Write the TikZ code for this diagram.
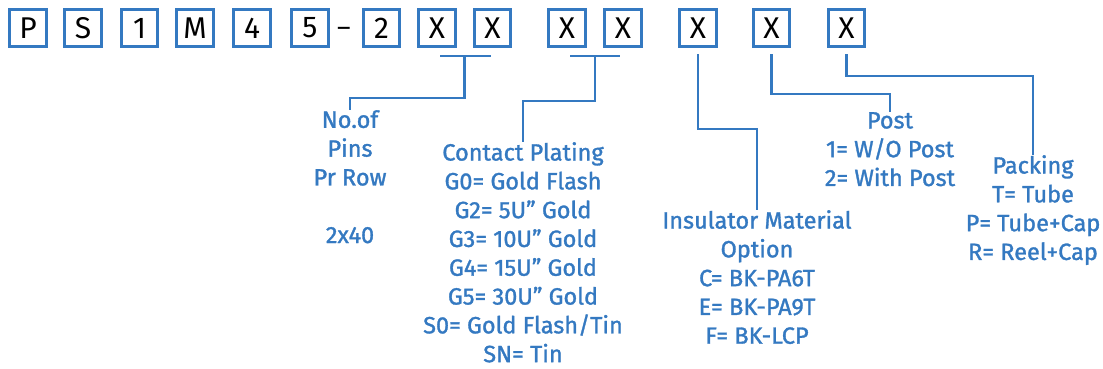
\documentclass[tikz,border=0pt]{standalone}
\usepackage{fontspec}
\setmainfont{Fira Sans}
\newfontfamily\infofont{Fira Sans}[FakeBold=1.3]
\usetikzlibrary{calc}
\definecolor{pnblue}{RGB}{52,121,193}
\begin{document}
\begin{tikzpicture}[x=1pt, y=-1pt,
  digit/.style={draw=pnblue, line width=2.7pt, minimum width=36.5pt,
                minimum height=37.5pt, inner sep=0pt, text=black,
                font=\fontsize{30}{30}\selectfont},
  info/.style={anchor=north, align=center, inner sep=0pt, text=pnblue,
               font=\infofont\fontsize{23.5}{28.8}\selectfont},
  link/.style={draw=pnblue, line width=2.7pt}
]
  \useasboundingbox (0,0) rectangle (1103,369);
  % part number boxes
  \foreach \x/\c/\n in {28/P/p1, 83/S/p2, 139.5/1/p3, 195/M/p4, 252/4/p5,
                        310/5/p6, 381.5/2/p7, 437/X/x1, 492.5/X/x2,
                        567/X/x3, 623/X/x4, 698/X/x5, 771.5/X/x6, 846.5/X/x7}
    \node[digit] (\n) at (\x,28) {\c};
  \node[inner sep=0pt, font=\fontsize{26}{26}\selectfont] (dash) at (344,32) {–};
  % option texts
  \node[info] (pins) at (350,110) {No.of\\Pins\\Pr Row\\[28.8pt]2x40};
  \node[info] (plating) at (523,142) {Contact Plating\\G0= Gold Flash\\G2= 5U” Gold\\
    G3= 10U” Gold\\G4= 15U” Gold\\G5= 30U” Gold\\S0= Gold Flash/Tin\\SN= Tin};
  \node[info] (insul) at (757,210) {Insulator Material\\Option\\C= BK-PA6T\\
    E= BK-PA9T\\F= BK-LCP};
  \node[info] (post) at (890,112) {Post\\1= W/O Post\\2= With Post};
  \node[info] (pack) at (1033,155) {Packing\\T= Tube\\P= Tube+Cap\\R= Reel+Cap};
  % connectors
  \coordinate (pinsfork) at ($(x1.south)!0.5!(x2.south)+(0,8)$);
  \coordinate (platefork) at ($(x3.south)!0.5!(x4.south)+(0,8)$);
  \draw[link] ($(x1.south)+(3,8)$) -- ($(x2.south)+(-2,8)$);
  \draw[link] ($(x3.south)+(3,8)$) -- ($(x4.south)+(-3,8)$);
  \draw[link] (pinsfork) -- ++(0,42) -| (pins.north);
  \draw[link] (platefork) -- ++(0,45) -| (plating.north);
  \draw[link] ($(x5.south)+(0,6)$) -- ++(0,75) -| (insul.north);
  \draw[link] ($(x6.south)+(0,6)$) -- ++(0,40) -| (post.north);
  \draw[link] ($(x7.south)+(0,6)$) -- ++(0,22) -| (pack.north);
\end{tikzpicture}
\end{document}
